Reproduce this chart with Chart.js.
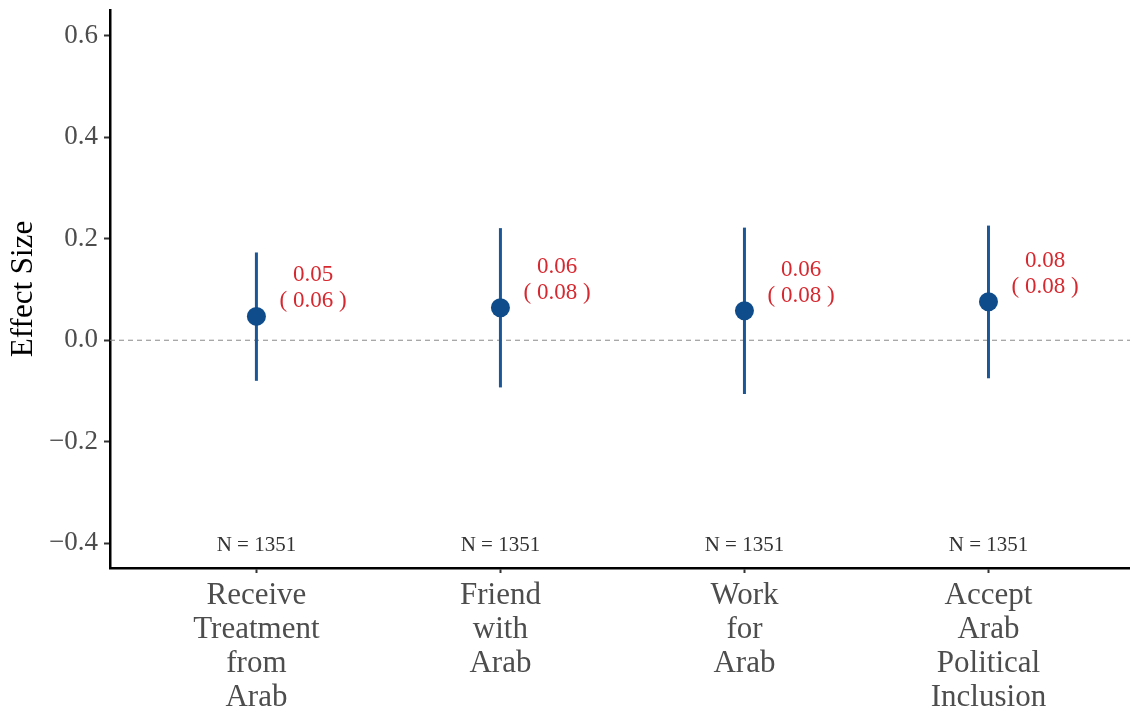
<!DOCTYPE html>
<html>
<head>
<meta charset="utf-8">
<script src="https://cdn.jsdelivr.net/npm/chart.js@4"></script>
<style>
  html, body { margin: 0; padding: 0; background: #ffffff; }
  #wrap { width: 1130px; height: 711px; }
</style>
</head>
<body>
<div id="wrap"><canvas id="c" width="1130" height="711"></canvas></div>
<script>
// Outcome categories (multi-line axis labels)
const categories = [
  ["Receive", "Treatment", "from", "Arab"],
  ["Friend", "with", "Arab"],
  ["Work", "for", "Arab"],
  ["Accept", "Arab", "Political", "Inclusion"]
];
// Point estimates, standard errors and 95% intervals
const estimates = [0.047, 0.064, 0.058, 0.076];
const stdErrors = [0.064, 0.080, 0.084, 0.077];
const ciLower = [-0.080, -0.093, -0.106, -0.075];
const ciUpper = [0.173, 0.221, 0.222, 0.226];
const sampleSizes = [1351, 1351, 1351, 1351];
const yTicks = [-0.4, -0.2, 0.0, 0.2, 0.4, 0.6];

const SERIF = "'Liberation Serif', 'Times New Roman', serif";
const BLUE = "#0f4c8c";
const RED = "#d7282f";

const fmtNum = v => (v < 0 ? "\u2212" : "") + Math.abs(v).toFixed(1);

const overlay = {
  id: "overlay",
  beforeDatasetsDraw(chart) {
    const { ctx, chartArea, scales: { x, y } } = chart;
    ctx.save();
    // zero reference line
    const y0 = y.getPixelForValue(0);
    ctx.strokeStyle = "#8a8a8a";
    ctx.lineWidth = 1;
    ctx.setLineDash([5, 4]);
    ctx.beginPath();
    ctx.moveTo(chartArea.left, y0);
    ctx.lineTo(chartArea.right, y0);
    ctx.stroke();
    ctx.setLineDash([]);
    // confidence intervals
    ctx.strokeStyle = "#1a5698";
    ctx.lineWidth = 3;
    estimates.forEach((_, i) => {
      const px = x.getPixelForValue(i + 1);
      ctx.beginPath();
      ctx.moveTo(px, y.getPixelForValue(ciLower[i]));
      ctx.lineTo(px, y.getPixelForValue(ciUpper[i]));
      ctx.stroke();
    });
    ctx.restore();
  },
  afterDatasetsDraw(chart) {
    const { ctx, chartArea, scales: { x, y } } = chart;
    ctx.save();
    ctx.textAlign = "center";
    ctx.textBaseline = "middle";
    // estimate and standard error labels
    ctx.fillStyle = RED;
    ctx.font = "23px " + SERIF;
    estimates.forEach((v, i) => {
      const px = x.getPixelForValue(i + 1.232);
      const py = y.getPixelForValue(v);
      ctx.fillText(v.toFixed(2), px, py - 41);
      ctx.fillText("( " + stdErrors[i].toFixed(2) + " )", px, py - 15);
    });
    // sample sizes
    ctx.fillStyle = "#333333";
    ctx.font = "21px " + SERIF;
    sampleSizes.forEach((n, i) => {
      ctx.fillText("N = " + n, x.getPixelForValue(i + 1), y.getPixelForValue(-0.404));
    });
    // y-axis title
    ctx.fillStyle = "#000000";
    ctx.font = "31px " + SERIF;
    ctx.translate(24, (chartArea.top + chartArea.bottom) / 2);
    ctx.rotate(-Math.PI / 2);
    ctx.fillText("Effect Size", 0, 0);
    ctx.restore();
  }
};

new Chart(document.getElementById("c"), {
  type: "scatter",
  data: {
    datasets: [{
      data: estimates.map((v, i) => ({ x: i + 1, y: v })),
      backgroundColor: BLUE,
      borderColor: BLUE,
      pointRadius: 9.5,
      pointHoverRadius: 9.5,
      borderWidth: 0
    }]
  },
  options: {
    responsive: false,
    animation: false,
    events: [],
    layout: { autoPadding: false, padding: { top: 10, right: 0, left: 0, bottom: 0 } },
    plugins: { legend: { display: false }, tooltip: { enabled: false } },
    scales: {
      x: {
        type: "linear",
        min: 0.4,
        max: 4.58,
        afterBuildTicks: s => { s.ticks = categories.map((_, i) => ({ value: i + 1 })); },
        afterFit: s => {
          s.height = 143;
          s.paddingLeft = 0; s.paddingRight = 0; s.paddingTop = 0; s.paddingBottom = 0;
        },
        ticks: {
          autoSkip: false,
          maxRotation: 0,
          padding: 6,
          color: "#4d4d4d",
          font: { family: SERIF, size: 31, lineHeight: 1.097 },
          callback: (v) => categories[Math.round(v) - 1] || ""
        },
        grid: { display: true, drawOnChartArea: false, drawTicks: true, tickLength: 5, tickWidth: 2, tickColor: "#333333" },
        border: { display: true, color: "#000000", width: 2.5 }
      },
      y: {
        min: -0.449,
        max: 0.651,
        afterBuildTicks: s => { s.ticks = yTicks.map(v => ({ value: v })); },
        afterFit: s => {
          s.width = 110;
          s.paddingLeft = 0; s.paddingRight = 0; s.paddingTop = 0; s.paddingBottom = 0;
        },
        ticks: {
          padding: 6,
          color: "#4d4d4d",
          font: { family: SERIF, size: 27 },
          callback: v => fmtNum(v)
        },
        grid: { display: true, drawOnChartArea: false, drawTicks: true, tickLength: 6, tickWidth: 2, tickColor: "#333333" },
        border: { display: true, color: "#000000", width: 2.5 }
      }
    }
  },
  plugins: [overlay]
});
</script>
</body>
</html>
